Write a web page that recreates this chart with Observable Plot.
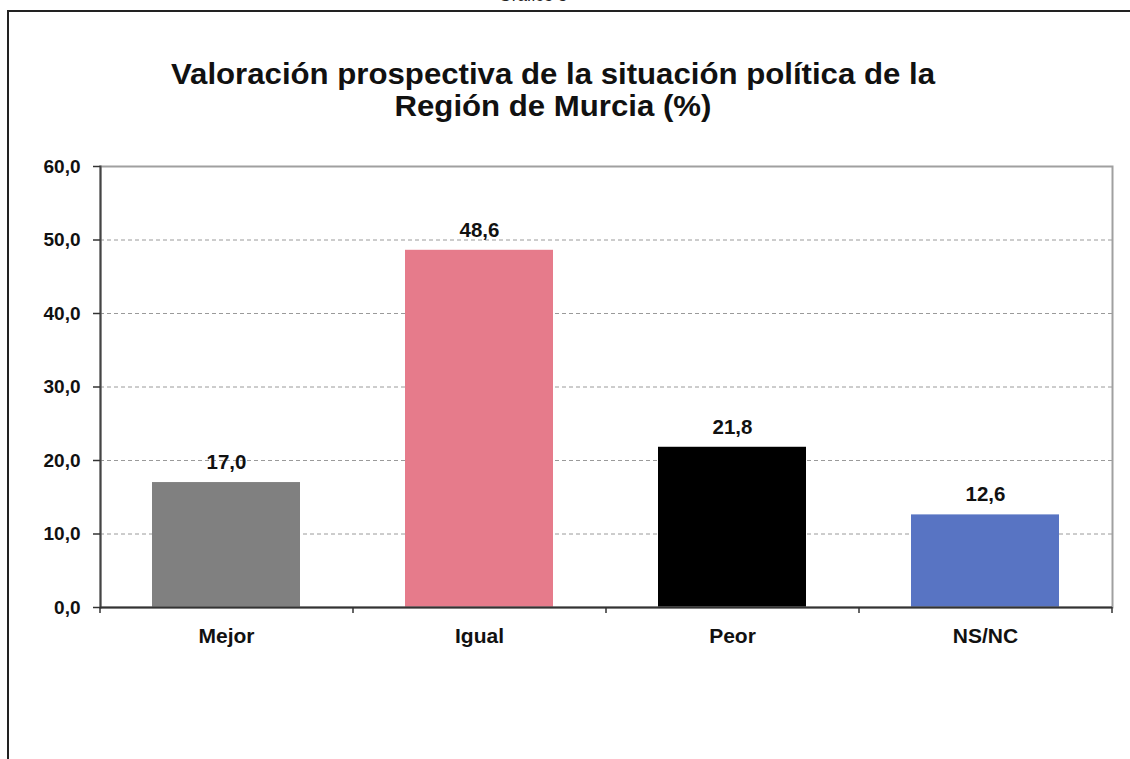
<!DOCTYPE html>
<html><head><meta charset="utf-8">
<script src="https://cdn.jsdelivr.net/npm/d3@7"></script>
<script src="https://cdn.jsdelivr.net/npm/@observablehq/plot@0.6"></script>
<style>
body{margin:0;background:#fff;font-family:"Liberation Sans",Arial,sans-serif;}
#wrap{position:relative;width:1130px;height:759px;overflow:hidden;background:#fff;}
#frame{position:absolute;left:7px;top:10px;width:1140px;height:800px;border-left:2px solid #222;border-top:2px solid #222;}
#sup{position:absolute;top:-14px;left:0;width:1066px;text-align:center;font-size:17px;color:#222;}
#title{position:absolute;top:58px;left:0;width:1106px;text-align:center;font-weight:bold;font-size:29px;line-height:32px;color:#111;transform:scaleX(1.075);transform-origin:553px 0;}
#wrap svg{position:absolute;left:0;top:0;}
</style></head>
<body>
<div id="wrap">
  <div id="frame"></div>
  <div id="sup">Gráfico 5</div>
  <div id="title">Valoración prospectiva de la situación política de la<br>Región de Murcia (%)</div>
</div>
<script>
const categories = ["Mejor", "Igual", "Peor", "NS/NC"];
const values = [17.0, 48.6, 21.8, 12.6];
const colors = ["#808080", "#E67B8B", "#000000", "#5874C3"];
const yTicks = [0, 10, 20, 30, 40, 50, 60];

const data = categories.map((c, i) => ({cat: c, value: values[i], color: colors[i]}));
const fmt = v => v.toFixed(1).replace(".", ",");

const W = 1130, H = 759, mL = 100, mR = 18, mT = 166, mB = 152;
const step = (W - mL - mR) / categories.length;

const chart = Plot.plot({
  width: W, height: H,
  marginLeft: mL, marginRight: mR, marginTop: mT, marginBottom: mB,
  style: {fontFamily: '"Liberation Sans", Arial, sans-serif', fontSize: "19px", fontWeight: "bold", color: "#111", background: "transparent"},
  x: {domain: categories, paddingInner: 0.415, paddingOuter: 0.2075, label: null},
  y: {domain: [0, 60], label: null},
  color: {type: "identity"},
  marks: [
    Plot.gridY(yTicks.filter(t => t > 0 && t < 60), {stroke: "#9a9a9a", strokeOpacity: 1, strokeDasharray: "4,3"}),
    Plot.barY(data, {x: "cat", y: "value", fill: d => d.color}),
    Plot.frame({stroke: "#a0a0a0", strokeWidth: 2}),
    Plot.frame({anchor: "left", stroke: "#444", strokeWidth: 2}),
    Plot.ruleY([0], {stroke: "#333", strokeWidth: 2}),
    Plot.ruleX(data, {x: "cat", y1: 0, y2: -0.8, dx: -step / 2, stroke: "#333", strokeWidth: 1.5}),
    Plot.ruleX(data.slice(-1), {x: "cat", y1: 0, y2: -0.8, dx: step / 2, stroke: "#333", strokeWidth: 1.5}),
    Plot.axisY({ticks: yTicks, tickFormat: fmt, tickSize: 7, tickPadding: 13, stroke: "#333", strokeWidth: 1.5}),
    Plot.axisX({tickSize: 0, tickPadding: 21, fontSize: 21}),
    Plot.text(data, {x: "cat", y: "value", text: d => fmt(d.value), dy: -20, fill: "#111", fontSize: 20.5})
  ]
});
document.getElementById("wrap").appendChild(chart);
</script>
</body></html>
